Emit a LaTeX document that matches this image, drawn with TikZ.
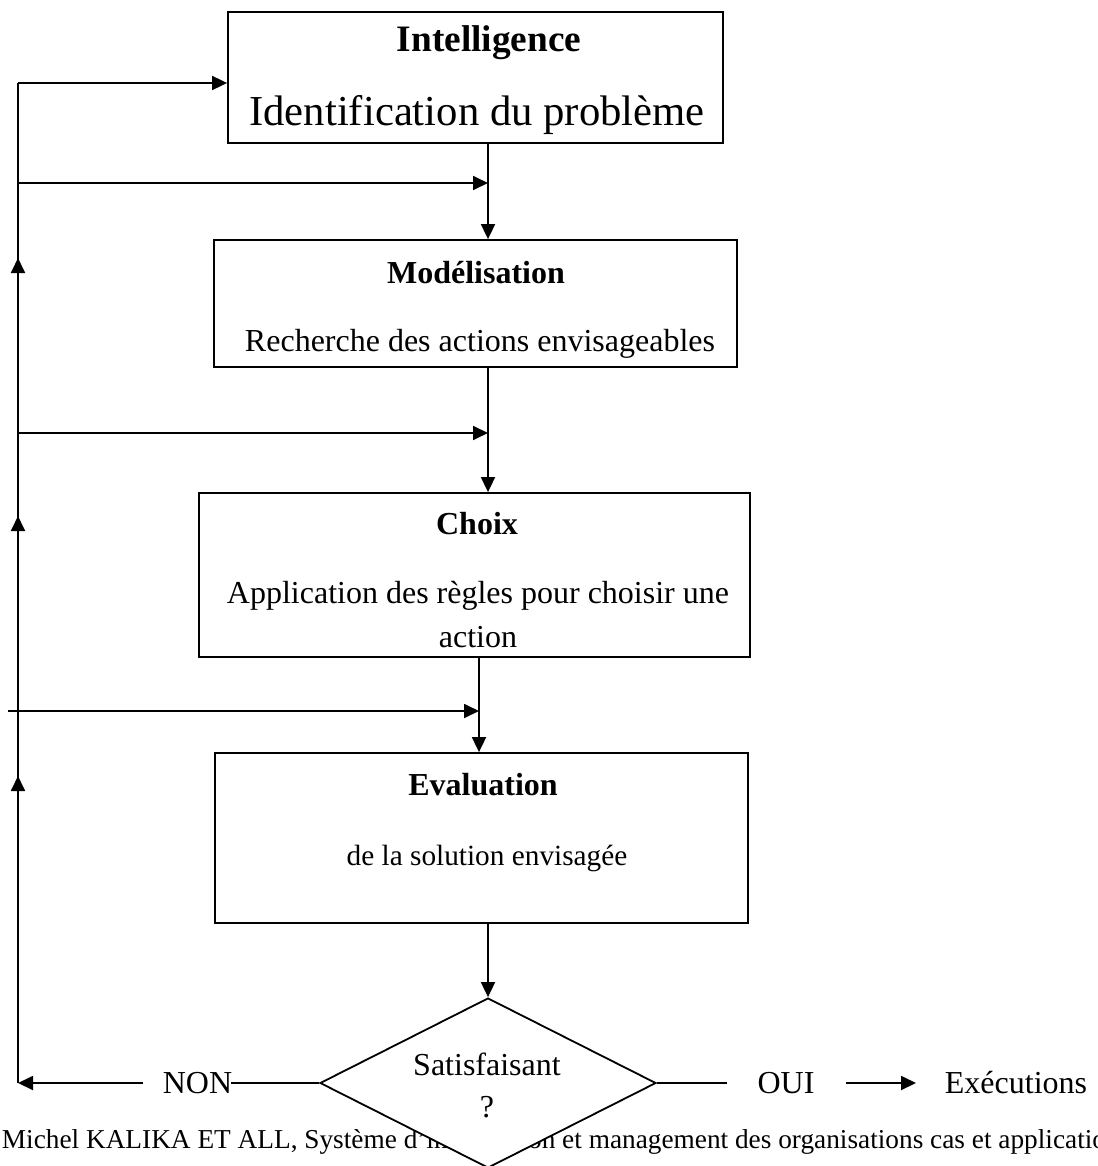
\documentclass[tikz,border=0pt]{standalone}
\usepackage{fontspec}
\setmainfont{Liberation Serif}
\usetikzlibrary{arrows.meta,shapes.geometric}
\begin{document}
\begin{tikzpicture}[x=1pt,y=-1pt,
  line width=1.8pt,
  arr/.style={-{Triangle[length=15pt,width=14pt]}},
  boxnode/.style={draw,rectangle,inner sep=0pt,fill=white},
  txt/.style={inner sep=0pt,anchor=base,font=\fontsize{32}{38}\selectfont},
  btxt/.style={txt,font=\fontsize{32}{38}\selectfont\bfseries},
]
\useasboundingbox (0,0) rectangle (1097,1166);
% boxes
\node[boxnode,minimum width=495pt,minimum height=131pt] (b1) at (475.5,77.5) {};
\node[boxnode,minimum width=523pt,minimum height=127pt] (b2) at (475.5,303.5) {};
\node[boxnode,minimum width=551pt,minimum height=164pt] (b3) at (474.5,575) {};
\node[boxnode,minimum width=533pt,minimum height=170pt] (b4) at (481.5,838) {};
% box texts
\node[btxt,font=\fontsize{37.3}{44}\selectfont\bfseries] (t1a) at (489,52) {Intelligence};
\node[txt,font=\fontsize{42.7}{50}\selectfont] (t1b) at (477,126) {Identification du problème};
\node[btxt] (t2a) at (476,283) {Modélisation};
\node[txt] (t2b) at (480,351) {Recherche des actions envisageables};
\node[btxt] (t3a) at (477,534) {Choix};
\node[txt] (t3b) at (478,603) {Application des règles pour choisir une};
\node[txt] (t3c) at (478,647) {action};
\node[btxt] (t4a) at (483,795) {Evaluation};
\node[txt,font=\fontsize{29.3}{35}\selectfont] (t4b) at (487,865) {de la solution envisagée};
% caption (drawn before diamond so the diamond covers it)
\node[txt,anchor=base west,font=\fontsize{27.3}{32}\selectfont] (cap) at (1,1148) {Michel KALIKA ET ALL, Système d’information et management des organisations cas et applications};
% diamond
\node[draw,diamond,inner sep=0pt,minimum width=336pt,minimum height=170pt,fill=white] (dia) at (488,1083) {};
\node[txt] (s1) at (487,1075) {Satisfaisant};
\node[txt] (s2) at (487,1117) {?};
\node[txt] (non) at (197.5,1093) {NON};
\node[txt] (oui) at (786,1093) {OUI};
\node[txt,anchor=base west] (exe) at (944,1093) {Exécutions};
% coordinates
\coordinate (v1) at (488,0);
\coordinate (v3) at (479,0);
\coordinate (l0) at (18,83);
\coordinate (l1) at (18,183);
\coordinate (l2) at (18,433);
\coordinate (l3) at (8,711);
\coordinate (lend) at (18,1083);
\coordinate (ouiA) at (727,1083);
\coordinate (ouiB) at (846,1083);
\coordinate (ouiC) at (916,1083);
\coordinate (nonA) at (143,1083);
\coordinate (nonB) at (231,1083);
\coordinate (u1) at (18,258);
\coordinate (u2) at (18,516);
\coordinate (u3) at (18,776);
% vertical main connectors
\draw[arr] (b1.south -| v1) -- (b2.north -| v1);
\draw[arr] (b2.south -| v1) -- (b3.north -| v1);
\draw[arr] (b3.south -| v3) -- (b4.north -| v3);
\draw[arr] (b4.south -| dia.north) -- (dia.north);
% left feedback line
\draw (lend) -- (l0);
\draw[arr] (l0) -- (b1.west |- l0);
\draw[arr] (l1) -- (l1 -| v1);
\draw[arr] (l2) -- (l2 -| v1);
\draw[arr] (l3) -- (l3 -| v3);
\foreach \u in {u1,u2,u3}{\draw[arr] ([yshift=-16pt]\u) -- (\u);}
% bottom connectors
\draw (dia.west) -- (nonB);
\draw[arr] (nonA) -- (lend);
\draw (dia.east) -- (ouiA);
\draw[arr] (ouiB) -- (ouiC);
\end{tikzpicture}
\end{document}
